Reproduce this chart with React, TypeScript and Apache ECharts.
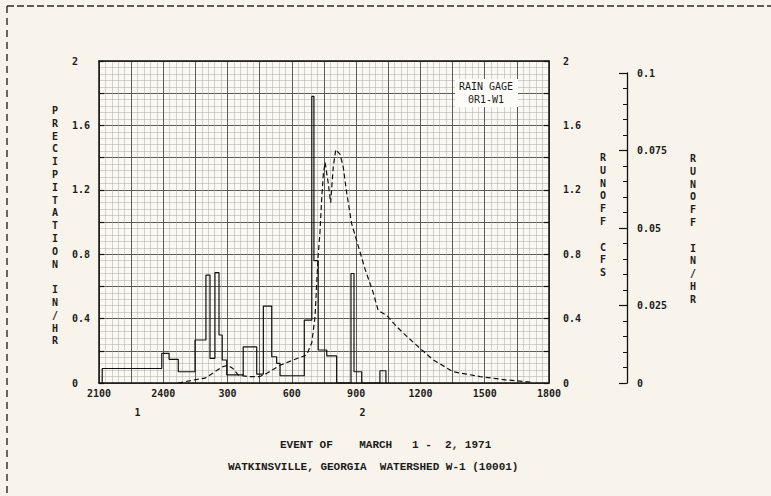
import React, { useEffect, useRef } from 'react';
import * as echarts from 'echarts';

// x axis: hours after 21:00 of day 1
const xTickLabels = ['2100', '2400', '300', '600', '900', '1200', '1500', '1800'];
const dayLabels = ['1', '2'];
const dayLabelHours = [1.8, 12.3];

// precipitation hyetograph: rate (in/hr) holds from break i to break i+1
const precipBreaks = [0.15, 2.93, 3.27, 3.70, 4.48, 4.99, 5.18, 5.41, 5.60, 5.75, 5.96, 6.73, 7.36, 7.67, 8.06, 8.29, 8.45, 9.58, 9.93, 10.03, 10.23, 10.63, 11.09, 11.76, 11.90, 12.26, 13.11, 13.39];
const precipRates = [0.09, 0.184, 0.147, 0.07, 0.267, 0.67, 0.153, 0.685, 0.298, 0.143, 0.05, 0.225, 0.055, 0.478, 0.163, 0.122, 0.045, 0.39, 1.78, 0.76, 0.205, 0.168, 0, 0.68, 0.07, 0, 0.076];

// runoff hydrograph (cfs)
const runoffTimes = [3.69, 4.48, 4.95, 5.41, 5.74, 6.02, 6.25, 6.49, 6.95, 7.51, 7.83, 8.45, 9.07, 9.69, 9.93, 10.08, 10.16, 10.23, 10.31, 10.39, 10.47, 10.55, 10.70, 10.81, 10.93, 11.05, 11.25, 11.40, 11.56, 11.79, 12.10, 12.41, 12.80, 13.03, 13.43, 13.89, 14.36, 14.90, 15.60, 16.53, 17.78, 18.95, 20.25];
const runoffCfs = [0.0, 0.02, 0.03, 0.07, 0.10, 0.11, 0.09, 0.05, 0.04, 0.04, 0.06, 0.11, 0.143, 0.174, 0.25, 0.41, 0.62, 0.80, 0.93, 1.14, 1.30, 1.37, 1.24, 1.12, 1.34, 1.45, 1.42, 1.34, 1.18, 0.99, 0.85, 0.71, 0.56, 0.45, 0.42, 0.35, 0.29, 0.225, 0.143, 0.07, 0.04, 0.02, 0.005];

const precipTitle = 'PRECIPITATION IN/HR';
const runoffCfsTitle = 'RUNOFF CFS';
const runoffInTitle = 'RUNOFF IN/HR';
const gageLines = ['RAIN GAGE', '0R1-W1'];
const titleLines = ['EVENT OF    MARCH   1 -  2, 1971', 'WATKINSVILLE, GEORGIA  WATERSHED W-1 (10001)'];

const BG = '#f8f4eb';
const INK = '#1c1c1c';
const MONO = 'DejaVu Sans Mono';

function stack(s: string) {
  return s.split('').join('\n');
}

export default function App() {
  const ref = useRef<HTMLDivElement>(null);
  useEffect(() => {
    const chart = echarts.init(ref.current!, null, { renderer: 'svg' });

    const precipData: number[][] = [];
    let prev = 0;
    for (let i = 0; i < precipBreaks.length; i++) {
      const r = i < precipRates.length ? precipRates[i] : 0;
      precipData.push([precipBreaks[i], prev]);
      precipData.push([precipBreaks[i], r]);
      prev = r;
    }
    const runoffData = runoffTimes.map((t, i) => [t, runoffCfs[i]]);

    const tickFont = { fontFamily: MONO, fontSize: 10, fontWeight: 'bold' as const, color: INK };
    const yFmt = (v: number) => {
      const k = Math.round(v * 5);
      if (k % 2 !== 0) return '';
      return k === 0 ? '0' : k === 10 ? '2' : (k / 5).toFixed(1);
    };

    const option: any = {
      backgroundColor: BG,
      animation: false,
      grid: [
        { left: 99, top: 61, width: 450, height: 322, containLabel: false, outerBoundsMode: 'none', show: true, backgroundColor: '#fbf9f3', borderWidth: 0 },
        { left: 626, top: 73, width: 1, height: 310, containLabel: false, outerBoundsMode: 'none' },
      ],
      xAxis: [
        {
          type: 'value', gridIndex: 0, min: 0, max: 21, interval: 1.5, position: 'bottom',
          axisLine: { show: true, onZero: false, lineStyle: { color: '#111', width: 1.5 } },
          axisTick: { show: false },
          axisLabel: {
            ...tickFont, margin: 5, hideOverlap: false,
            formatter: (v: number) => {
              const k = v / 3;
              return Math.abs(k - Math.round(k)) < 1e-6 ? xTickLabels[Math.round(k)] : '';
            },
          },
          splitLine: { show: true, lineStyle: { color: '#4a4a48', width: 0.9 } },
          minorTick: { show: false, splitNumber: 5 },
          minorSplitLine: { show: true, lineStyle: { color: '#a9a9a6', width: 0.5 } },
        },
        {
          type: 'value', gridIndex: 0, min: 0, max: 21, position: 'top',
          axisLine: { show: true, onZero: false, lineStyle: { color: '#111', width: 1.5 } },
          axisTick: { show: false }, axisLabel: { show: false }, splitLine: { show: false },
        },
        { type: 'value', gridIndex: 1, min: 0, max: 1, show: false },
      ],
      yAxis: [
        {
          type: 'value', gridIndex: 0, min: 0, max: 2, interval: 0.2, position: 'left',
          axisLine: { show: true, onZero: false, lineStyle: { color: '#111', width: 1.5 } },
          axisTick: { show: true, inside: true, length: 5, lineStyle: { color: '#111', width: 1.2 } },
          axisLabel: { ...tickFont, margin: 27, align: 'left', formatter: yFmt },
          splitLine: { show: true, lineStyle: { color: '#4a4a48', width: 0.9 } },
          minorTick: { show: false, splitNumber: 5 },
          minorSplitLine: { show: true, lineStyle: { color: '#a9a9a6', width: 0.5 } },
        },
        {
          type: 'value', gridIndex: 0, min: 0, max: 2, interval: 0.2, position: 'right',
          axisLine: { show: true, onZero: false, lineStyle: { color: '#111', width: 1.5 } },
          axisTick: { show: true, inside: true, length: 5, lineStyle: { color: '#111', width: 1.2 } },
          axisLabel: { ...tickFont, margin: 14, align: 'left', formatter: yFmt },
          splitLine: { show: false },
        },
        {
          type: 'value', gridIndex: 1, min: 0, max: 0.1, interval: 0.025, position: 'right',
          axisLine: { show: true, onZero: false, lineStyle: { color: '#111', width: 1.3 } },
          axisTick: { show: true, inside: true, length: 8, lineStyle: { color: '#111', width: 1.2 } },
          minorTick: { show: true, splitNumber: 5, length: 4, lineStyle: { color: '#111', width: 1 } },
          axisLabel: {
            ...tickFont, margin: 10, align: 'left',
            formatter: (v: number) => String(parseFloat(v.toFixed(3))),
          },
          splitLine: { show: false },
        },
      ],
      series: [
        {
          type: 'line', xAxisIndex: 0, yAxisIndex: 0, data: precipData, symbol: 'none', silent: true,
          lineStyle: { color: '#111', width: 1.2 }, z: 5,
        },
        {
          type: 'line', xAxisIndex: 0, yAxisIndex: 0, data: runoffData, symbol: 'none', silent: true,
          lineStyle: { color: '#111', width: 1.2, type: [5, 3] }, z: 5,
        },
      ],
      graphic: [
        { type: 'line', shape: { x1: 7, y1: 6, x2: 771, y2: 6 }, style: { stroke: '#2a2a2a', lineWidth: 1.4, lineDash: [7, 3] } },
        { type: 'line', shape: { x1: 7, y1: 6, x2: 7, y2: 496 }, style: { stroke: '#2a2a2a', lineWidth: 1.4, lineDash: [7, 5] } },
        {
          type: 'text', x: 55, y: 104, z: 10,
          style: { text: stack(precipTitle), fill: INK, font: `bold 10px ${MONO}`, textAlign: 'center', lineHeight: 12.8 },
        },
        {
          type: 'text', x: 603, y: 151, z: 10,
          style: { text: stack(runoffCfsTitle), fill: INK, font: `bold 10px ${MONO}`, textAlign: 'center', lineHeight: 12.8 },
        },
        {
          type: 'text', x: 693, y: 152, z: 10,
          style: { text: stack(runoffInTitle), fill: INK, font: `bold 10px ${MONO}`, textAlign: 'center', lineHeight: 12.8 },
        },
        { type: 'rect', shape: { x: 455, y: 79, width: 63, height: 28 }, style: { fill: '#fdfcf8' }, z: 10 },
        {
          type: 'text', x: 486, y: 86, z: 11,
          style: { text: gageLines[0], fill: INK, font: `10px ${MONO}`, textAlign: 'center', textVerticalAlign: 'middle' },
        },
        {
          type: 'text', x: 486, y: 99, z: 11,
          style: { text: gageLines[1], fill: INK, font: `10px ${MONO}`, textAlign: 'center', textVerticalAlign: 'middle' },
        },
        ...dayLabels.map((d, i) => ({
          type: 'text', x: 99 + dayLabelHours[i] * (450 / 21), y: 412, z: 10,
          style: { text: d, fill: INK, font: `bold 10px ${MONO}`, textAlign: 'center', textVerticalAlign: 'middle' },
        })),
        {
          type: 'text', x: 280, y: 445, z: 10,
          style: { text: titleLines[0], fill: INK, font: 'bold 11px "Liberation Mono"', textAlign: 'left', textVerticalAlign: 'middle' },
        },
        {
          type: 'text', x: 228, y: 467, z: 10,
          style: { text: titleLines[1], fill: INK, font: 'bold 11px "Liberation Mono"', textAlign: 'left', textVerticalAlign: 'middle' },
        },
      ],
    };
    chart.setOption(option);
    return () => chart.dispose();
  }, []);
  return (
    <div
      ref={ref}
      style={{ position: 'absolute', left: 0, top: 0, width: 771, height: 496, background: BG }}
    />
  );
}
